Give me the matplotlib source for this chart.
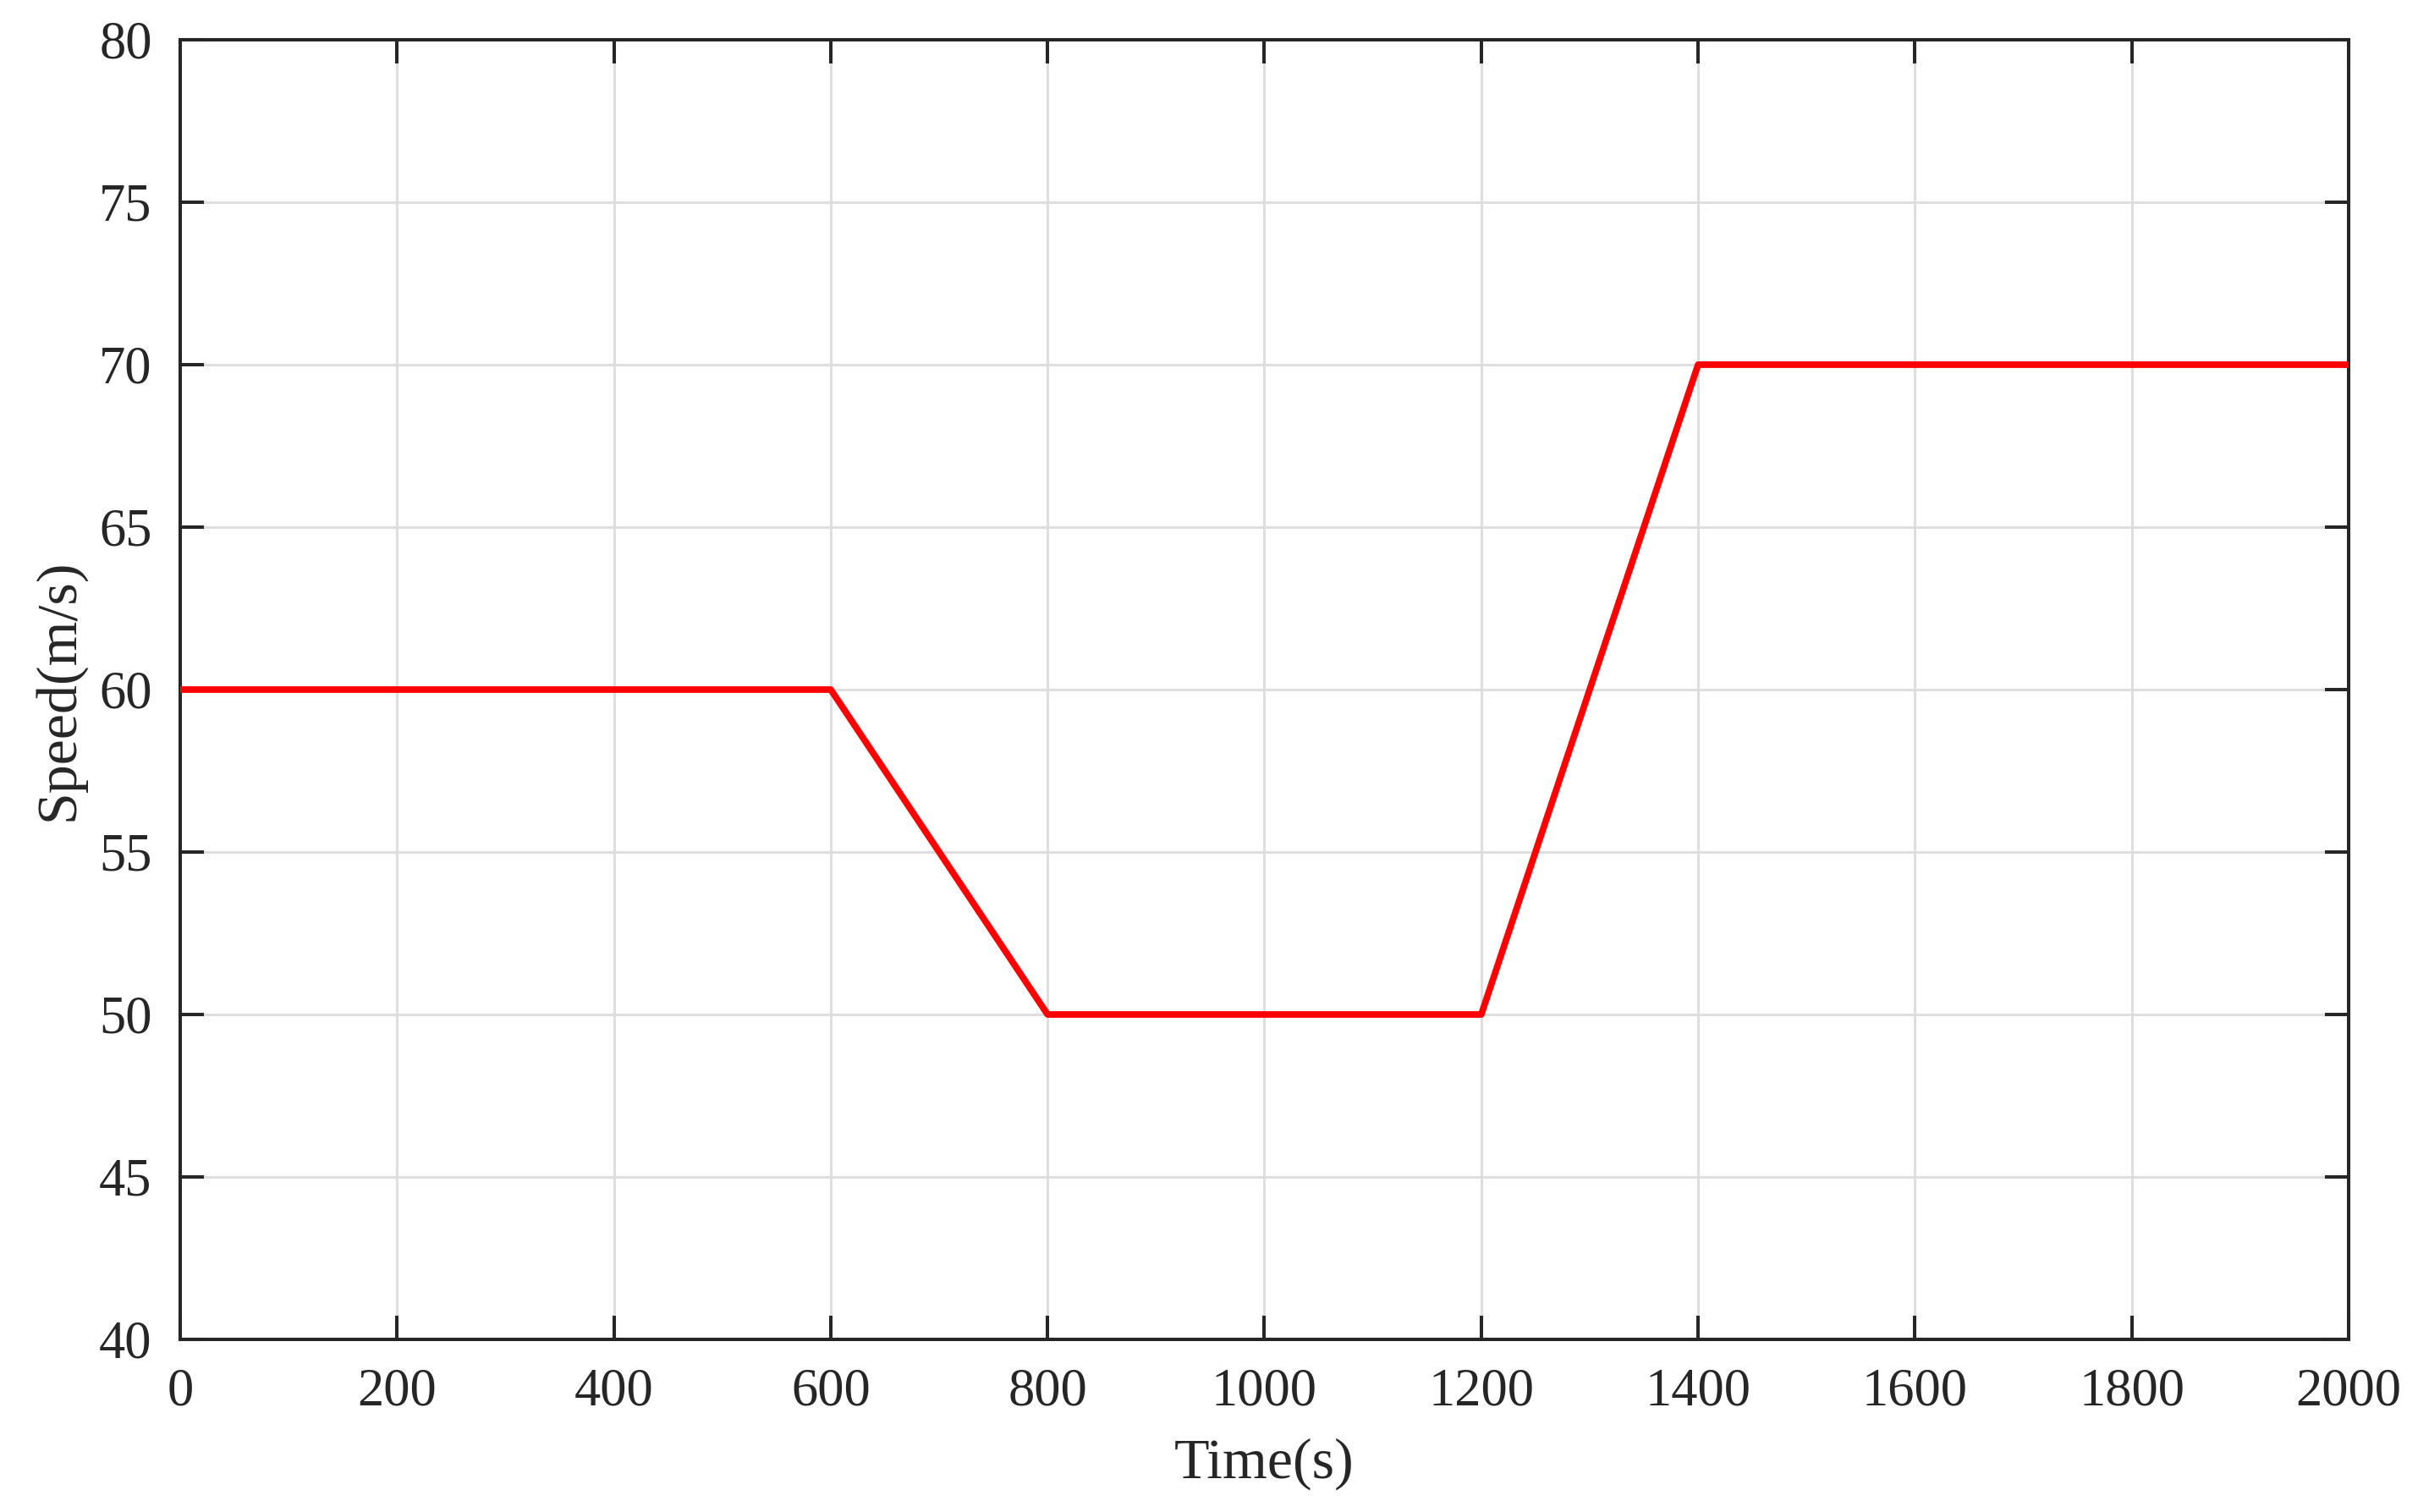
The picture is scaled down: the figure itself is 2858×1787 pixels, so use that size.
import matplotlib
matplotlib.use('Agg')
import matplotlib.pyplot as plt

# speed profile (breakpoints)
time_s = [0, 600, 800, 1200, 1400, 2000]
speed = [60, 60, 50, 50, 70, 70]

x_ticks = [0, 200, 400, 600, 800, 1000, 1200, 1400, 1600, 1800, 2000]
y_ticks = [40, 45, 50, 55, 60, 65, 70, 75, 80]

plt.rcParams['font.family'] = ['Liberation Serif', 'DejaVu Serif']
plt.rcParams['font.size'] = 22.5

fig = plt.figure(figsize=(14.29, 8.935), dpi=200)
ax = fig.add_axes([213 / 2858, 1 - 1583 / 1787, (2776 - 213) / 2858, (1583 - 47) / 1787])

ax.plot(time_s, speed, color='#ff0000', linewidth=2.8, zorder=3)

ax.set_xlim(0, 2000)
ax.set_ylim(40, 80)
ax.set_xticks(x_ticks)
ax.set_yticks(y_ticks)
ax.grid(True, color='#dedede', linewidth=1.1)
ax.set_axisbelow(True)

axis_col = '#262626'
for s in ax.spines.values():
    s.set_color(axis_col)
    s.set_linewidth(1.45)
ax.tick_params(direction='in', length=10, width=1.45, color=axis_col,
               labelcolor=axis_col, top=True, right=True, pad=12)

ax.set_xlabel('Time(s)', color=axis_col, fontsize=24.5, labelpad=9)
ax.set_ylabel('Speed(m/s)', color=axis_col, fontsize=24.5, labelpad=6)

fig.savefig('out.png', dpi=200, facecolor='white')
